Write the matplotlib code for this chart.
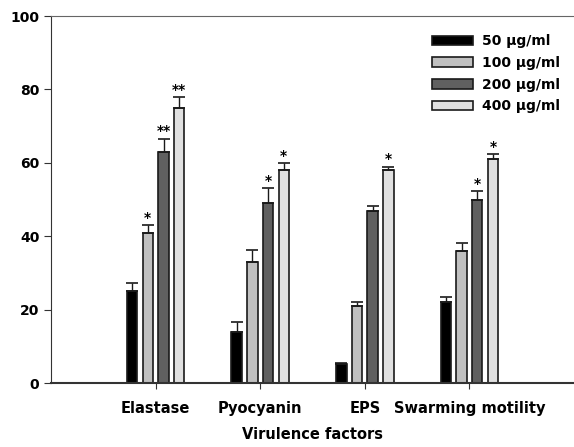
import matplotlib
matplotlib.use('Agg')
import matplotlib.pyplot as plt
import numpy as np

plt.rcParams['font.family'] = ['DejaVu Sans']
plt.rcParams['font.weight'] = 'bold'

categories = ['Elastase', 'Pyocyanin', 'EPS', 'Swarming motility']
doses = ['50 μg/ml', '100 μg/ml', '200 μg/ml', '400 μg/ml']

# values[dose][category]
values = [
    [25, 14, 5.1, 22],
    [41, 33, 21, 36],
    [63, 49, 47, 50],
    [75, 58, 58, 61],
]
errors = [
    [2.4, 2.7, 0.3, 1.4],
    [2.0, 3.2, 1.1, 2.3],
    [3.6, 4.1, 1.3, 2.3],
    [2.9, 1.9, 1.0, 1.4],
]
stars = [
    ['', '', '', ''],
    ['*', '', '', ''],
    ['**', '*', '', '*'],
    ['**', '*', '*', '*'],
]

colors = ['#000000', '#c0c0c0', '#606060', '#e0e0e0']

fig = plt.figure(figsize=(5.74, 4.47), dpi=100)
ax = fig.add_axes([0.089, 0.143, 0.911, 0.821])

x = np.arange(len(categories))
width = 0.1
step = 0.15
offsets = [-1.5 * step, -0.5 * step, 0.5 * step, 1.5 * step]

for i in range(len(doses)):
    xs = x + offsets[i]
    ax.bar(xs, values[i], width, color=colors[i], edgecolor='#1a1a1a',
           linewidth=1.2, label=doses[i], zorder=2)
    ax.errorbar(xs, values[i], yerr=[np.zeros(len(x)), errors[i]],
                fmt='none', ecolor='#1a1a1a', elinewidth=1.0,
                capsize=4, capthick=1.2, zorder=3)
    for j in range(len(categories)):
        if stars[i][j]:
            ax.text(xs[j], values[i][j] + errors[i][j] + 0.1, stars[i][j],
                    ha='center', va='bottom', fontsize=10, fontweight='bold')

ax.set_xlim(-1, 4)
ax.set_ylim(0, 100)
ax.set_yticks([0, 20, 40, 60, 80, 100])
ax.set_xticks(x)
ax.set_xticklabels(categories, fontsize=10.5, fontweight='bold')
ax.tick_params(axis='y', labelsize=10, direction='out', length=5,
               color='#333333')
ax.tick_params(axis='x', direction='out', length=4, pad=9,
               color='#333333')
for lab in ax.get_yticklabels():
    lab.set_fontweight('bold')

ax.spines['right'].set_visible(False)
ax.spines['top'].set_color('#666666')
ax.spines['left'].set_color('#333333')
ax.spines['bottom'].set_color('#333333')
ax.spines['bottom'].set_linewidth(1.5)

ax.set_xlabel('Virulence factors', fontsize=10.5, fontweight='bold',
              labelpad=8)

leg = ax.legend(loc='upper left', bbox_to_anchor=(0.7285, 0.95), frameon=False,
                fontsize=10, handlelength=2.95, handleheight=0.7,
                labelspacing=0.55, handletextpad=0.65,
                borderaxespad=0, borderpad=0)
for t in leg.get_texts():
    t.set_fontweight('bold')

fig.savefig('out.png', dpi=100)
